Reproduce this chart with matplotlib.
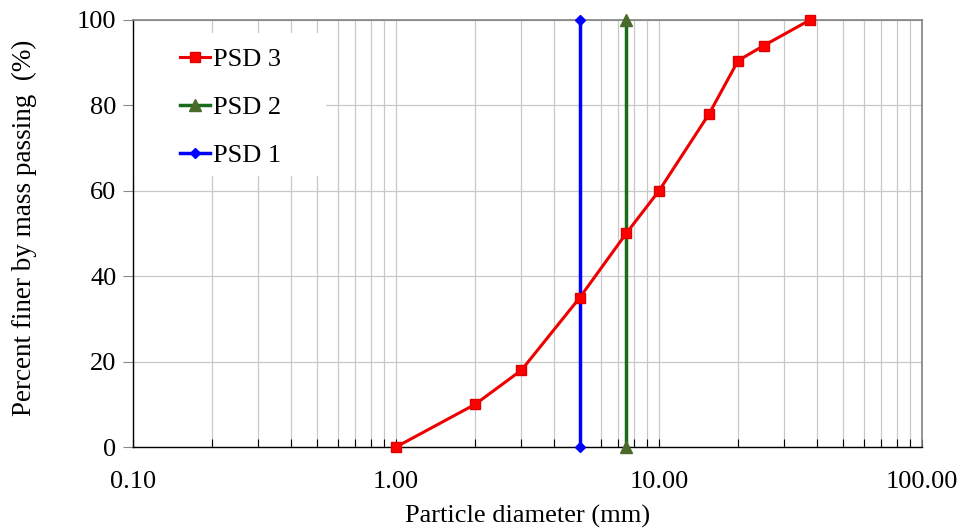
import matplotlib
matplotlib.use("Agg")
import matplotlib.pyplot as plt
from matplotlib.patches import Rectangle
from matplotlib.ticker import FixedLocator, LogLocator, NullFormatter, FuncFormatter

plt.rcParams['font.family'] = ['Liberation Serif', 'DejaVu Serif']

# PSD 3 grading curve
psd3_d = [1.0, 2.0, 3.0, 5.0, 7.5, 10.0, 15.5, 20.0, 25.0, 37.5]
psd3_p = [0, 10, 18, 35, 50, 60, 78, 90.5, 94, 100]
# single-size gradings
psd2_d = [7.5, 7.5]
psd2_p = [0, 100]
psd1_d = [5.0, 5.0]
psd1_p = [0, 100]

fig = plt.figure(figsize=(9.68, 5.30), dpi=100)
ax = fig.add_axes([133/968, 1 - 447/530, (922-133)/968, (447-20)/530])

ax.plot(psd3_d, psd3_p, color='#ee0000', lw=2.2, marker='s', ms=7,
        mfc='#ff0000', mec='#dd0000', label='PSD 3', zorder=4, clip_on=False)
ax.plot(psd2_d, psd2_p, color='#1a6b1a', lw=2.5, marker='^', ms=8,
        mfc='#4a6a2a', mec='#4a6a2a', label='PSD 2', zorder=3, clip_on=False)
ax.plot(psd1_d, psd1_p, color='#0000ff', lw=2.5, marker='D', ms=5,
        mfc='#0000ff', mec='#0000ff', label='PSD 1', zorder=3, clip_on=False)

ax.set_xscale('log')
ax.set_xlim(0.1, 100)
ax.set_ylim(0, 100)
ax.xaxis.set_major_locator(FixedLocator([0.1, 1, 10, 100]))
ax.xaxis.set_major_formatter(FuncFormatter(lambda v, p: f"{v:.2f}"))
ax.xaxis.set_minor_locator(LogLocator(base=10, subs=range(2, 10)))
ax.xaxis.set_minor_formatter(NullFormatter())
ax.set_yticks([0, 20, 40, 60, 80, 100])

ax.grid(True, which='both', axis='x', color='#c8c8c8', lw=0.9)
ax.grid(True, which='major', axis='y', color='#c8c8c8', lw=0.9)
ax.set_axisbelow(True)

ax.tick_params(axis='x', which='both', direction='in', length=6, width=0.8,
               labelsize=19, pad=17)
ax.tick_params(axis='y', direction='out', length=7, width=0.8, color='#888888',
               labelsize=19, pad=5)

for s in ['top', 'right']:
    ax.spines[s].set_color('#808080')
    ax.spines[s].set_linewidth(1.2)
for s in ['left', 'bottom']:
    ax.spines[s].set_color('black')
    ax.spines[s].set_linewidth(1.0)

ax.set_xlabel('Particle diameter (mm)', fontsize=19, labelpad=9)
ax.set_ylabel('Percent finer by mass passing  (%)', fontsize=19.5)
ax.yaxis.set_label_coords(-0.122, 0.513)

# white patch behind the legend, hiding the grid there
ax.add_patch(Rectangle((0, (447-176)/427), (327-134)/789, (176-33)/427,
                       transform=ax.transAxes, facecolor='white',
                       edgecolor='none', zorder=1.5))

ax.legend(loc='upper left', bbox_to_anchor=(0.059, 0.935), fontsize=19,
          frameon=False, handlelength=1.15, handletextpad=0.1,
          labelspacing=0.93, borderpad=0, borderaxespad=0)

fig.savefig('out.png', dpi=100)
